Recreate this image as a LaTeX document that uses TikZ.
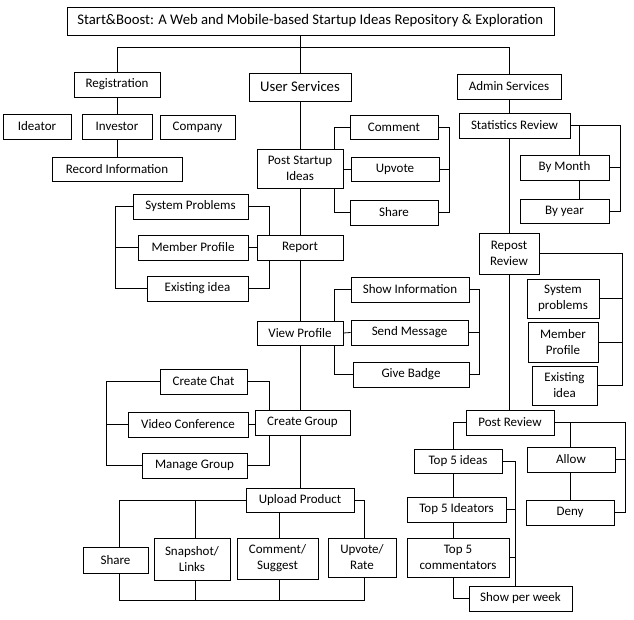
\documentclass[tikz,border=0pt]{standalone}
\usepackage{fontspec}
\setmainfont{Carlito}
\usetikzlibrary{decorations.pathmorphing}
\newcommand\mybox[6]{\node[box, minimum width={(#4-#2)*1pt}, minimum height={(#5-#3)*1pt}] (#1) at ({(#2+#4)/2},{(#3+#5)/2}) {#6};}
\newlength\sbwidth
\begin{document}
\begin{tikzpicture}[x=1pt,y=-1pt, line width=0.8pt,
  box/.style={draw, inner sep=0pt, align=center, font=\fontsize{13}{16}\selectfont}]
\useasboundingbox[fill=white] (0,0) rectangle (634,620);
\settowidth{\sbwidth}{\fontsize{14.7}{17}\selectfont Start\&Boost}
% boxes
\mybox{title}{67}{7}{554}{35}{}
\node[anchor=base west, font=\fontsize{14.7}{17}\selectfont, inner sep=0pt] (ttxt) at (77,25) {Start\&Boost: A Web and Mobile-based Startup Ideas Repository \& Exploration};
\mybox{reg}{74}{72}{160}{97}{Registration}
\mybox{us}{249}{73}{351}{101}{\fontsize{14.7}{17}\selectfont User Services}
\mybox{adm}{457}{74}{561}{99}{Admin Services}
\mybox{ide}{3}{114}{71}{139}{Ideator}
\mybox{inv}{82}{114}{152}{139}{Investor}
\mybox{comp}{160}{115}{235}{139}{Company}
\mybox{rec}{52}{157}{182}{181}{Record Information}
\mybox{psi}{257}{149}{343}{188}{Post Startup\\Ideas}
\mybox{com}{350}{115}{438}{139}{Comment}
\mybox{upv}{351}{157}{439}{181}{Upvote}
\mybox{shr}{350}{200}{438}{225}{Share}
\mybox{rep}{257}{235}{343}{260}{Report}
\mybox{sp}{133}{194}{248}{219}{System Problems}
\mybox{mp}{138}{235}{248}{260}{Member Profile}
\mybox{ex}{147}{276}{248}{301}{Existing idea}
\mybox{vp}{257}{321}{343}{345}{View Profile}
\mybox{si}{351}{277}{469}{302}{Show Information}
\mybox{sm}{351}{320}{468}{345}{Send Message}
\mybox{gb}{353}{362}{469}{387}{Give Badge}
\mybox{cg}{255}{410}{350}{435}{Create Group}
\mybox{cc}{160}{369}{247}{394}{Create Chat}
\mybox{vc}{128}{412}{248}{437}{Video Conference}
\mybox{mg}{142}{453}{247}{478}{Manage Group}
\mybox{up}{246}{488}{354}{512}{Upload Product}
\mybox{shb}{83}{547}{148}{573}{Share}
\mybox{snap}{154}{538}{230}{580}{Snapshot/\\Links}
\mybox{cs}{237}{538}{318}{579}{Comment/\\Suggest}
\mybox{uv}{328}{538}{396}{577}{Upvote/\\Rate}
\mybox{stat}{459}{113}{570}{138}{Statistics Review}
\mybox{bm}{520}{155}{609}{180}{By Month}
\mybox{by}{520}{199}{609}{223}{By year}
\mybox{rr}{479}{233}{539}{274}{Repost\\Review}
\mybox{sp2}{527}{279}{599}{318}{System\\problems}
\mybox{mp2}{528}{322}{598}{362}{Member\\Profile}
\mybox{ex2}{532}{366}{597}{405}{Existing\\idea}
\mybox{pr}{466}{410}{554}{435}{Post Review}
\mybox{t5i}{414}{449}{502}{473}{Top 5 ideas}
\mybox{t5d}{407}{497}{506}{522}{Top 5 Ideators}
\mybox{t5c}{407}{538}{509}{577}{Top 5\\commentators}
\mybox{spw}{469}{586}{572}{611}{Show per week}
\mybox{al}{527}{447}{615}{472}{Allow}
\mybox{dn}{526}{500}{614}{525}{Deny}
% spell-check underline
\draw[red!80!black, line width=0.4pt, decorate, decoration={snake, amplitude=0.7pt, segment length=2.4pt}] (ttxt.base west) ++(0,3) -- ++(\sbwidth,0);
% helper coordinates
\coordinate (bar) at (0,47);
\coordinate (xa) at (334,0); \coordinate (xb) at (449,0);
\coordinate (xc) at (269,0); \coordinate (xd) at (115,0);
\coordinate (xe) at (479,0); \coordinate (xf) at (106,0);
\coordinate (xg) at (119,0); \coordinate (xh) at (195,0);
\coordinate (xi) at (279,0); \coordinate (xj) at (364,0);
\coordinate (yb) at (0,600);
\coordinate (xk) at (579,0); \coordinate (xl) at (620,0);
\coordinate (xm) at (622,0); \coordinate (xn) at (453,0);
\coordinate (xo) at (515,0); \coordinate (xp) at (570,0);
\coordinate (xq) at (625,0);
% top level
\draw (us.north |- title.south) -- (us.north);
\draw (reg.north) -- (reg.north |- bar) -- (adm.north |- bar) -- (adm.north);
\draw (reg.south) -- (inv.north);
\draw (inv.south) -- (rec.north);
% main column
\draw (us.south) -- (us.south |- psi.north);
\draw (us.south |- psi.south) -- (us.south |- rep.north);
\draw (us.south |- rep.south) -- (us.south |- vp.north);
\draw (us.south |- vp.south) -- (us.south |- cg.north);
\draw (us.south |- cg.south) -- (us.south |- up.north);
% post startup ideas
\draw (com.west) -| (psi.north -| xa);
\draw (shr.west) -| (psi.south -| xa);
\draw (psi.east |- upv.west) -- (upv.west);
\draw (com.east) -| (shr.east -| xb) -- (shr.east);
\draw (upv.east) -- (upv.east -| xb);
% report
\draw (sp.east) -| (rep.north -| xc);
\draw (ex.east) -| (rep.south -| xc);
\draw (mp.east) -- (rep.west);
\draw (sp.west) -| (ex.west -| xd) -- (ex.west);
\draw (mp.west) -- (mp.west -| xd);
% view profile
\draw (si.west) -| (vp.north -| xa);
\draw (gb.west) -| (vp.south -| xa);
\draw (vp.east) -- (sm.west);
\draw (si.east) -| (gb.east -| xe) -- (gb.east);
\draw (sm.east) -- (sm.east -| xe);
% create group
\draw (cc.east) -| (cg.north -| xc);
\draw (mg.east) -| (cg.south -| xc);
\draw (vc.east) -- (cg.west |- vc.east);
\draw (cc.west) -| (mg.west -| xf) -- (mg.west);
\draw (vc.west) -- (vc.west -| xf);
% upload product
\draw (up.west) -| (shb.north -| xg);
\draw (up.west -| xh) -- (snap.north -| xh);
\draw (up.south -| xi) -- (cs.north -| xi);
\draw (up.east) -| (uv.north -| xj);
\draw (shb.south -| xg) -- (xg |- yb) -- (xj |- yb) -- (uv.south -| xj);
\draw (snap.south -| xh) -- (xh |- yb);
\draw (cs.south -| xi) -- (xi |- yb);
% admin
\draw (adm.south) -- (adm.south |- stat.north);
\draw (stat.east) -| (by.east -| xl) -- (by.east);
\draw (stat.east -| xk) -- (bm.north -| xk);
\draw (bm.east) -- (bm.east -| xl);
\draw (bm.south -| xk) -- (by.north -| xk);
\draw (adm.south |- stat.south) -- (rr.north);
\draw (rr.east) -| (ex2.east -| xm) -- (ex2.east);
\draw (sp2.east) -- (sp2.east -| xm);
\draw (mp2.east) -- (mp2.east -| xm);
\draw (rr.south) -- (rr.south |- pr.north);
% post review
\draw (pr.west) -| (t5i.north -| xn);
\draw (t5i.south -| xn) -- (t5d.north -| xn);
\draw (t5d.south -| xn) -- (t5c.north -| xn);
\draw (t5c.south -| xn) |- (spw.west);
\draw (t5i.east) -| (spw.north -| xo);
\draw (t5d.east) -- (t5d.east -| xo);
\draw (t5c.east) -- (t5c.east -| xo);
\draw (pr.east) -| (dn.east -| xq) -- (dn.east);
\draw (pr.east -| xp) -- (al.north -| xp);
\draw (al.east) -- (al.east -| xq);
\draw (al.south -| xp) -- (dn.north -| xp);
\end{tikzpicture}
\end{document}
